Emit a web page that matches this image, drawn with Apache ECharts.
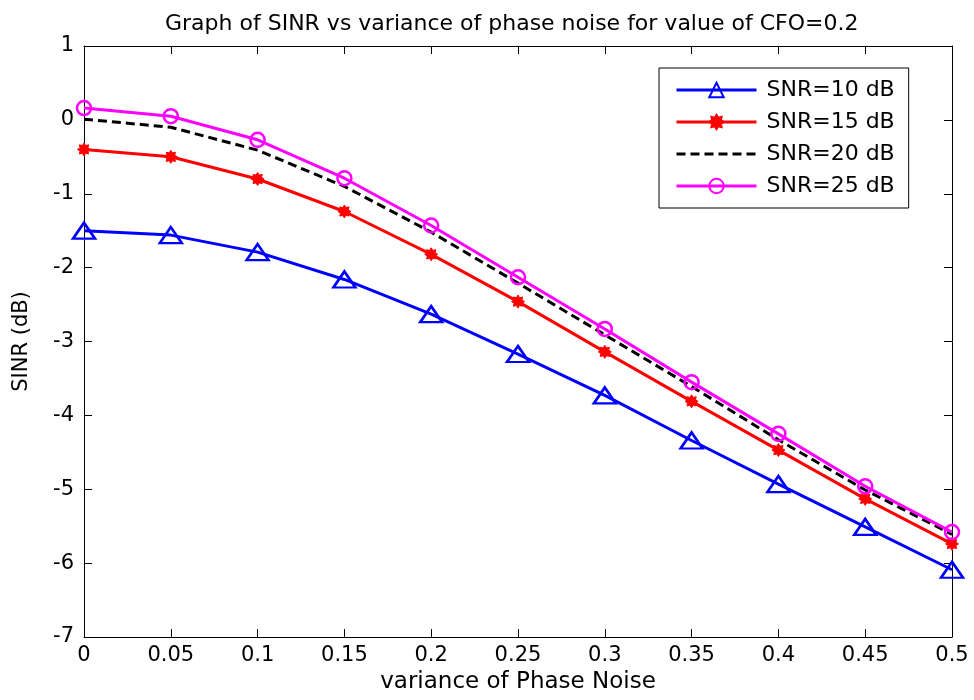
<!DOCTYPE html>
<html>
<head>
<meta charset="utf-8">
<script src="https://cdn.jsdelivr.net/npm/echarts@6/dist/echarts.min.js"></script>
<style>html,body{margin:0;padding:0;background:#fff}#c{width:974px;height:700px}</style>
</head>
<body>
<div id="c"></div>
<script>
const xValues = [0, 0.05, 0.1, 0.15, 0.2, 0.25, 0.3, 0.35, 0.4, 0.45, 0.5];
const snr10 = [-1.50, -1.56, -1.79, -2.16, -2.63, -3.17, -3.73, -4.34, -4.93, -5.51, -6.09];
const snr15 = [-0.40, -0.50, -0.80, -1.24, -1.82, -2.46, -3.14, -3.81, -4.47, -5.13, -5.74];
const snr20 = [0.01, -0.10, -0.41, -0.90, -1.52, -2.21, -2.91, -3.61, -4.33, -5.01, -5.61];
const snr25 = [0.16, 0.05, -0.27, -0.79, -1.43, -2.13, -2.83, -3.55, -4.25, -4.96, -5.58];
const seriesNames = ['SNR=10 dB', 'SNR=15 dB', 'SNR=20 dB', 'SNR=25 dB'];
const xTickLabels = ['0', '0.05', '0.1', '0.15', '0.2', '0.25', '0.3', '0.35', '0.4', '0.45', '0.5'];
const yTicks = [-7, -6, -5, -4, -3, -2, -1, 0, 1];

const FONT = 'DejaVu Sans';
const CLEAR = 'rgba(0,0,0,0)';
const starPath = 'path://M20 10 L16.01 12.49 L17.07 17.07 L12.49 16.01 L10 20 L7.51 16.01 L2.93 17.07 L3.99 12.49 L0 10 L3.99 7.51 L2.93 2.93 L7.51 3.99 L10 0 L12.49 3.99 L17.07 2.93 L16.01 7.51 Z';

function pairs(ys) { return xValues.map((x, i) => [x, ys[i]]); }
function xLabel(v) {
  const idx = xValues.findIndex(x => Math.abs(x - v) < 1e-9);
  return idx >= 0 ? xTickLabels[idx] : '';
}

const axisCommon = {
  axisLine: { show: true, onZero: false, lineStyle: { color: '#000', width: 1 } },
  axisTick: { show: true, inside: true, length: 8, lineStyle: { color: '#000', width: 1 } },
  splitLine: { show: false }
};

const chart = echarts.init(document.getElementById('c'), null, { renderer: 'canvas' });
chart.setOption({
  animation: false,
  backgroundColor: '#fff',
  title: {
    text: 'Graph of SINR vs variance of phase noise for value of CFO=0.2',
    left: 160,
    top: 8,
    textStyle: { fontFamily: FONT, fontSize: 22, fontWeight: 'normal', color: '#000' }
  },
  grid: { left: 84, right: 22, top: 46, bottom: 63 },
  legend: {
    orient: 'vertical',
    left: 659,
    top: 68,
    padding: [11, 14, 11, 16],
    itemWidth: 80,
    itemHeight: 18,
    itemGap: 10,
    backgroundColor: '#fff',
    borderColor: '#000',
    borderWidth: 1,
    lineStyle: { width: 3 },
    textStyle: { fontFamily: FONT, fontSize: 22, color: '#000', padding: [0, 0, 0, 5] },
    data: [
      { name: seriesNames[0] },
      { name: seriesNames[1] },
      { name: seriesNames[2], itemStyle: { opacity: 0 } },
      { name: seriesNames[3] }
    ]
  },
  xAxis: [
    Object.assign({}, axisCommon, {
      type: 'value', min: 0, max: 0.5, interval: 0.05,
      name: 'variance of Phase Noise', nameLocation: 'middle', nameGap: 34,
      nameTextStyle: { fontFamily: FONT, fontSize: 23, color: '#000' },
      axisLabel: { fontFamily: FONT, fontSize: 21, color: '#000', margin: 8, formatter: xLabel }
    }),
    Object.assign({}, axisCommon, {
      type: 'value', min: 0, max: 0.5, interval: 0.05, position: 'top',
      axisLabel: { show: false }
    })
  ],
  yAxis: [
    Object.assign({}, axisCommon, {
      type: 'value', min: yTicks[0], max: yTicks[yTicks.length - 1], interval: 1,
      name: 'SINR (dB)', nameLocation: 'middle', nameGap: 52, nameRotate: 90,
      nameTextStyle: { fontFamily: FONT, fontSize: 21, color: '#000' },
      axisLabel: { fontFamily: FONT, fontSize: 21, color: '#000', margin: 10 }
    }),
    Object.assign({}, axisCommon, {
      type: 'value', min: yTicks[0], max: yTicks[yTicks.length - 1], interval: 1, position: 'right',
      axisLabel: { show: false }
    })
  ],
  series: [
    {
      name: seriesNames[0], type: 'line', data: pairs(snr10), clip: false,
      symbol: 'triangle', symbolSize: [22, 16],
      lineStyle: { color: '#0000ff', width: 3 },
      itemStyle: { color: CLEAR, borderColor: '#0000ff', borderWidth: 2.5 }
    },
    {
      name: seriesNames[1], type: 'line', data: pairs(snr15), clip: false,
      symbol: starPath, symbolSize: 13,
      lineStyle: { color: '#ff0000', width: 3 },
      itemStyle: { color: '#ff0000', borderColor: '#ff0000', borderWidth: 1 }
    },
    {
      name: seriesNames[2], type: 'line', data: pairs(snr20), clip: false,
      symbol: 'none',
      lineStyle: { color: '#000000', width: 3, type: [9, 5] },
      itemStyle: { color: '#000000', opacity: 0 }
    },
    {
      name: seriesNames[3], type: 'line', data: pairs(snr25), clip: false,
      symbol: 'circle', symbolSize: 14,
      lineStyle: { color: '#ff00ff', width: 3 },
      itemStyle: { color: CLEAR, borderColor: '#ff00ff', borderWidth: 2.5 }
    }
  ]
});
</script>
</body>
</html>
